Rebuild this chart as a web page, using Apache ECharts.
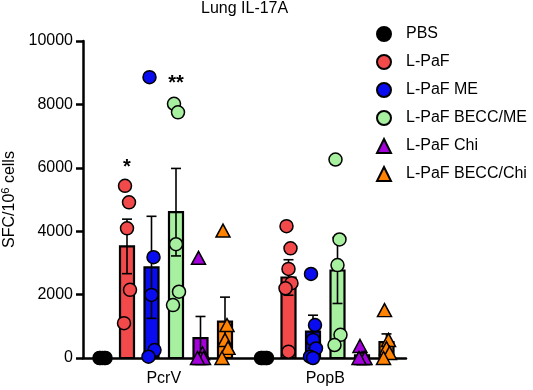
<!DOCTYPE html>
<html>
<head>
<meta charset="utf-8">
<script src="https://cdn.jsdelivr.net/npm/echarts@6/dist/echarts.min.js"></script>
<style>
  html, body { margin: 0; padding: 0; background: #fff; }
  #chart { width: 533px; height: 390px; }
</style>
</head>
<body>
<div id="chart"></div>
<script>
// Antigènes (axe des x) et groupes
const antigens = ["PcrV", "PopB"];
const groups = ["PBS", "L-PaF", "L-PaF ME", "L-PaF BECC/ME", "L-PaF Chi", "L-PaF BECC/Chi"];
const colors = ["#000000", "#F2494A", "#0A0CF0", "#A6F0A0", "#A400DC", "#FF8200"];
const symbols = ["circle", "circle", "circle", "circle", "triangle", "triangle"];

// Hauteur des barres (moyenne) [PcrV, PopB]
const meanPBS = [0, 0];
const meanLPaF = [3520, 2540];
const meanME = [2860, 830];
const meanBeccME = [4600, 2760];
const meanChi = [630, 80];
const meanBeccChi = [1150, 500];

// Erreur standard [PcrV, PopB]
const semPBS = [0, 0];
const semLPaF = [860, 560];
const semME = [1610, 520];
const semBeccME = [1380, 1040];
const semChi = [680, 75];
const semBeccChi = [770, 260];

// Points individuels [PcrV, PopB]
const ptsPBS = [[0, 0, 0, 0, 0], [0, 0, 0, 0, 0]];
const ptsLPaF = [[5430, 4910, 4090, 2150, 1100], [4160, 3460, 2810, 2360, 2200, 200]];
const ptsME = [[8860, 3180, 1990, 250, 40], [2650, 1040, 570, 300, 40, 0]];
const ptsBeccME = [[8020, 7750, 3590, 2090, 1670], [6260, 3740, 2930, 730, 410]];
const ptsChi = [[3160, 150, 0, 0, 0], [380, 0, 0, 0, 0]];
const ptsBeccChi = [[4020, 1040, 570, 320, 0], [1510, 570, 310, 160, 0]];

// Significativité (PcrV) : texte et hauteur par groupe
const sigText = ["", "*", "", "**", "", ""];
const sigLevel = [0, 6000, 0, 8650, 0, 0];

// Décalage horizontal des points (px) pour éviter les chevauchements
const jitterPx = [-2, 2, 0, 3, -3, 0];

const means = [meanPBS, meanLPaF, meanME, meanBeccME, meanChi, meanBeccChi];
const sems = [semPBS, semLPaF, semME, semBeccME, semChi, semBeccChi];
const points = [ptsPBS, ptsLPaF, ptsME, ptsBeccME, ptsChi, ptsBeccChi];

// largeur d'un emplacement de barre en unités de catégorie
const step = 0.1517;
const xPos = (ci, gi) => ci + 0.5 + (gi - 2.5) * step;

function barSeries(gi) {
  const color = colors[gi];
  return {
    type: "custom",
    name: groups[gi] + " bar",
    xAxisIndex: 1,
    yAxisIndex: 0,
    z: 2,
    silent: true,
    data: means[gi].map((m, ci) => [xPos(ci, gi), m, sems[gi][ci]]),
    renderItem: function (params, api) {
      const x = api.value(0);
      const m = api.value(1);
      const s = api.value(2);
      if (m <= 0) return;
      const base = api.coord([x, 0]);
      const top = api.coord([x, m]);
      const hi = api.coord([x, m + s]);
      const lo = api.coord([x, Math.max(0, m - s)]);
      const w = 14;
      const line = { stroke: "#000", lineWidth: 1.6 };
      return {
        type: "group",
        children: [
          {
            type: "rect",
            shape: { x: base[0] - w / 2, y: top[1], width: w, height: base[1] - top[1] },
            style: { fill: color, stroke: "#000", lineWidth: 2.2 },
          },
          { type: "line", shape: { x1: base[0], y1: hi[1], x2: base[0], y2: lo[1] }, style: line },
          { type: "line", shape: { x1: base[0] - 5, y1: hi[1], x2: base[0] + 5, y2: hi[1] }, style: line },
          { type: "line", shape: { x1: base[0] - 5, y1: lo[1], x2: base[0] + 5, y2: lo[1] }, style: line },
        ],
      };
    },
  };
}

function pointSeries(gi) {
  const data = [];
  points[gi].forEach((vals, ci) => {
    vals.forEach((v, k) => {
      data.push({ value: [xPos(ci, gi), v], symbolOffset: [jitterPx[k % jitterPx.length], 0] });
    });
  });
  const tri = symbols[gi] === "triangle";
  return {
    type: "scatter",
    name: groups[gi],
    xAxisIndex: 1,
    yAxisIndex: 0,
    z: 3,
    symbol: symbols[gi],
    symbolSize: tri ? [14, 13] : 13,
    itemStyle: { color: colors[gi], borderColor: "#000", borderWidth: 1.5, opacity: 1 },
    data: data,
  };
}

const series = [];
groups.forEach((g, gi) => series.push(barSeries(gi)));
groups.forEach((g, gi) => series.push(pointSeries(gi)));

// Astérisques au-dessus des groupes PcrV
const sigData = [];
sigText.forEach((t, gi) => {
  if (t) sigData.push([xPos(0, gi), sigLevel[gi], gi]);
});
series.push({
  type: "custom",
  name: "sig",
  xAxisIndex: 1,
  yAxisIndex: 0,
  silent: true,
  z: 4,
  data: sigData,
  renderItem: function (params, api) {
    const p = api.coord([api.value(0), api.value(1)]);
    return {
      type: "text",
      x: p[0],
      y: p[1],
      style: {
        text: sigText[api.value(2)],
        fontSize: 20,
        fontWeight: "bold",
        fontFamily: "Liberation Sans, Arial, sans-serif",
        fill: "#000",
        align: "center",
        verticalAlign: "middle",
      },
    };
  },
});

const chart = echarts.init(document.getElementById("chart"));
chart.setOption({
  animation: false,
  textStyle: { fontFamily: "Liberation Sans, Arial, sans-serif", color: "#000" },
  title: {
    text: "Lung IL-17A",
    left: 196,
    top: -4,
    textStyle: { fontSize: 16, fontWeight: "normal", color: "#000" },
  },
  legend: {
    data: groups,
    orient: "vertical",
    left: 371,
    top: 21,
    itemWidth: 14,
    itemHeight: 14,
    itemGap: 12,
    textStyle: { fontSize: 16, color: "#000", padding: [0, 0, 0, 10] },
  },
  grid: { left: 83, right: 127, top: 41, bottom: 32, containLabel: false, outerBoundsMode: "none" },
  xAxis: [
    {
      type: "category",
      data: antigens,
      axisLine: { lineStyle: { color: "#000", width: 2.5 } },
      axisTick: { alignWithLabel: true, length: 6, lineStyle: { width: 2 } },
      axisLabel: { fontSize: 16, color: "#000", margin: 13 },
    },
    { type: "value", min: 0, max: 2, show: false },
  ],
  yAxis: {
    type: "value",
    min: 0,
    max: 10000,
    interval: 2000,
    name: "{a|SFC/10}{s|6}{a| cells}",
    nameLocation: "middle",
    nameGap: 56,
    nameTextStyle: {
      rich: {
        a: { fontSize: 16, color: "#000" },
        s: { fontSize: 11, color: "#000", padding: [0, 0, 8, 0] },
      },
    },
    splitLine: { show: false },
    axisLine: { show: true, lineStyle: { color: "#000", width: 2.5 } },
    axisTick: { show: true, length: 7, lineStyle: { width: 2.5 } },
    axisLabel: { fontSize: 16, color: "#000", margin: 10, formatter: (v) => String(v) },
  },
  series: series,
});
</script>
</body>
</html>
